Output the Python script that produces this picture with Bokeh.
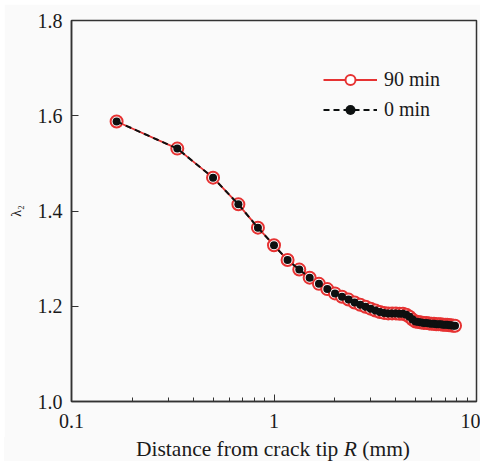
from bokeh.plotting import figure
from bokeh.models import Range1d, FixedTicker, Legend, LegendItem, Div, CustomJSTickFormatter
from bokeh.layouts import column
from bokeh.embed import file_html
from bokeh.resources import INLINE

# Distance from crack tip R (mm)
r_mm = [0.167, 0.333, 0.500, 0.667, 0.833, 1.000, 1.167, 1.333, 1.500, 1.667,
        1.833, 2.000, 2.167, 2.333, 2.500, 2.667, 2.833, 3.000, 3.167, 3.333,
        3.500, 3.667, 3.833, 4.000, 4.167, 4.333, 4.500, 4.667, 4.833, 5.000,
        5.167, 5.333, 5.500, 5.667, 5.833, 6.000, 6.167, 6.333, 6.500, 6.667,
        6.833, 7.000, 7.167, 7.333, 7.500, 7.667, 7.833]

# lambda_2 after 90 min
lambda2_90min = [1.588, 1.531, 1.470, 1.414, 1.365, 1.328, 1.297, 1.277, 1.260, 1.247,
                 1.236, 1.227, 1.220, 1.214, 1.208, 1.203, 1.199, 1.195, 1.191, 1.188,
                 1.186, 1.185, 1.185, 1.185, 1.184, 1.184, 1.182, 1.178, 1.172, 1.168,
                 1.167, 1.166, 1.165, 1.165, 1.164, 1.163, 1.163, 1.162, 1.162, 1.162,
                 1.161, 1.161, 1.161, 1.160, 1.160, 1.159, 1.159]

# lambda_2 at 0 min
lambda2_0min = [1.588, 1.531, 1.470, 1.414, 1.365, 1.328, 1.297, 1.277, 1.260, 1.247,
                1.236, 1.227, 1.220, 1.214, 1.208, 1.203, 1.199, 1.195, 1.191, 1.188,
                1.186, 1.185, 1.185, 1.185, 1.184, 1.184, 1.182, 1.178, 1.172, 1.168,
                1.167, 1.166, 1.165, 1.165, 1.164, 1.163, 1.163, 1.162, 1.162, 1.162,
                1.161, 1.161, 1.161, 1.160, 1.160, 1.159, 1.159]

x_ticks = [0.1, 1, 10]
x_tick_labels = ["0.1", "1", "10"]
x_minor_ticks = [0.2, 0.3, 0.4, 0.5, 0.6, 0.7, 0.8, 0.9, 2, 3, 4, 5, 6, 7, 8, 9]
y_ticks = [1.0, 1.2, 1.4, 1.6, 1.8]
y_tick_labels = ["1.0", "1.2", "1.4", "1.6", "1.8"]
series_labels = ["90 min", "0 min"]

FONT = "Liberation Serif"
TEXT = "#1a1a1a"
RED = "#e63232"
BLACK = "#0d1010"
BG = "#fafafa"

p = figure(frame_width=405, frame_height=381, x_axis_type="log",
           x_range=Range1d(0.1, 10), y_range=Range1d(1.0, 1.8),
           output_backend="svg", toolbar_location=None,
           min_border_left=67, min_border_right=4, min_border_top=16, min_border_bottom=36,
           background_fill_color=BG, border_fill_color=BG, margin=(4, 8, 0, 4))
p.grid.visible = False
p.outline_line_color = "#333333"
p.outline_line_width = 1.5

fmt_code = "const i = tv.findIndex(t => Math.abs(t - tick) < 1e-9); return i >= 0 ? tl[i] : '';"
p.xaxis.ticker = FixedTicker(ticks=x_ticks, minor_ticks=x_minor_ticks)
p.xaxis.formatter = CustomJSTickFormatter(args=dict(tv=x_ticks, tl=x_tick_labels), code=fmt_code)
p.yaxis.ticker = FixedTicker(ticks=y_ticks)
p.yaxis.formatter = CustomJSTickFormatter(args=dict(tv=y_ticks, tl=y_tick_labels), code=fmt_code)

for ax in (p.xaxis, p.yaxis):
    ax.axis_line_color = "#333333"
    ax.axis_line_width = 1.5
    ax.major_tick_line_color = "#333333"
    ax.minor_tick_line_color = "#333333"
    ax.major_tick_in = 7
    ax.major_tick_out = 0
    ax.minor_tick_in = 4
    ax.minor_tick_out = 0
    ax.major_label_text_font = FONT
    ax.major_label_text_font_size = "20px"
    ax.major_label_text_color = TEXT
p.yaxis.minor_tick_line_color = None
p.xaxis.major_label_standoff = 12
p.yaxis.major_label_standoff = 9

p.yaxis.axis_label = "λ₂"
p.yaxis.axis_label_text_font = FONT
p.yaxis.axis_label_text_font_size = "14px"
p.yaxis.axis_label_text_font_style = "normal"
p.yaxis.axis_label_text_color = TEXT
p.yaxis.axis_label_standoff = 11

red_line = p.line(r_mm, lambda2_90min, line_color=RED, line_width=1.8)
red_pts = p.scatter(r_mm, lambda2_90min, marker="circle", size=12,
                    fill_color="white", line_color=RED, line_width=2)
blk_line = p.line(r_mm, lambda2_0min, line_color=BLACK, line_width=2, line_dash="6 4")
blk_pts = p.scatter(r_mm, lambda2_0min, marker="circle", size=8,
                    fill_color=BLACK, line_color=None)

legend = Legend(items=[LegendItem(label=series_labels[0], renderers=[red_line, red_pts]),
                       LegendItem(label=series_labels[1], renderers=[blk_line, blk_pts])],
                location=(252, 279), glyph_width=54, glyph_height=25, label_height=25,
                spacing=5, label_standoff=7, padding=0, margin=0,
                border_line_color=None, background_fill_alpha=0,
                label_text_font=FONT, label_text_font_size="20px", label_text_color=TEXT)
p.add_layout(legend)

xlabel_html = ('<div style="margin-left:132px; font-family:\'Liberation Serif\'; '
               'font-size:21.5px; line-height:24px; color:#1a1a1a; white-space:nowrap;">'
               'Distance from crack tip <i>R</i> (mm)</div>')
xlabel = Div(text=xlabel_html, width=476, height=24, margin=(0, 8, 0, 4),
             styles={"background-color": BG})

layout = column(p, xlabel, spacing=0)
open("out.html", "w").write(file_html(layout, INLINE))
